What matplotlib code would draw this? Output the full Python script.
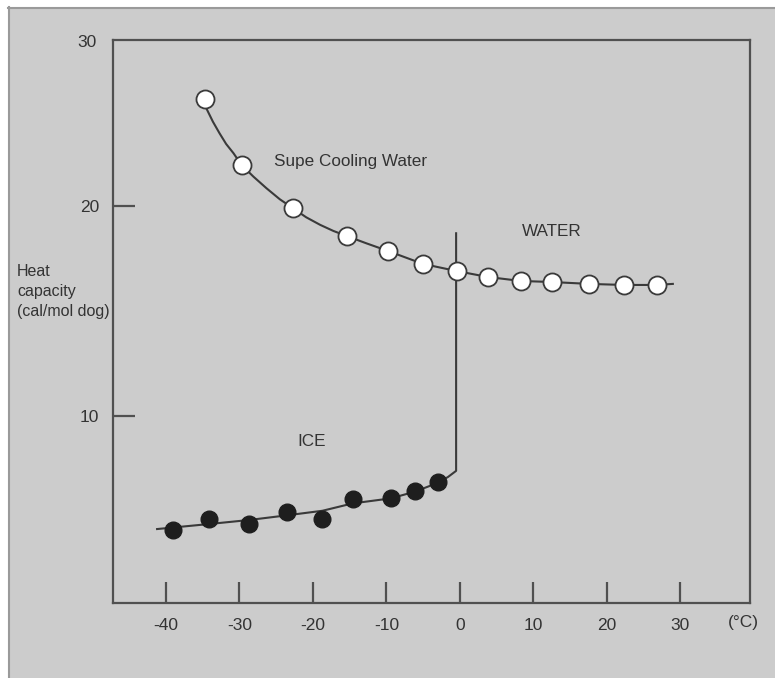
import matplotlib
matplotlib.use("Agg")
import matplotlib.pyplot as plt
from matplotlib.patches import Rectangle

plt.rcParams["font.family"] = ["Liberation Sans", "DejaVu Sans"]

# supercooled water / water (open circles)
water_t = [-34.7, -29.7, -22.7, -15.4, -9.8, -5.0, -0.4, 3.8, 8.3, 12.5, 17.6, 22.3, 26.8]
water_cp = [25.1, 21.95, 19.89, 18.57, 17.86, 17.24, 16.9, 16.62, 16.43, 16.38, 16.29, 16.22, 16.22]

# smooth curve drawn through the water points
water_curve_t = [-34.7, -34.5, -33.6, -32.7, -31.8, -30.8, -29.7, -28.1, -26.3, -24.5,
                 -22.7, -20.9, -19.0, -17.2, -15.4, -12.7, -9.8,
                 -5.0, -0.4, 3.8, 8.3, 12.5, 17.6, 22.3, 26.8, 29.0]
water_curve_cp = [25.1, 24.65, 24.01, 23.46, 22.95, 22.51, 21.95, 21.40, 20.84, 20.32,
                  19.89, 19.46, 19.10, 18.81, 18.57, 18.22, 17.86,
                  17.24, 16.9, 16.62, 16.43, 16.38, 16.29, 16.24, 16.24, 16.29]

# ice (filled circles)
ice_t = [-39.0, -34.1, -28.7, -23.5, -18.8, -14.6, -9.4, -6.1, -3.0]
ice_cp = [4.57, 5.10, 4.86, 5.43, 5.10, 6.05, 6.10, 6.43, 6.86]

# fitted curve for ice, ending in the jump at the melting point
ice_curve_t = [-41.2, -34.1, -28.7, -23.6, -18.7, -14.6, -9.4, -6.1, -3.0, -1.6, -0.5, -0.5]
ice_curve_cp = [4.62, 4.86, 5.05, 5.27, 5.49, 5.84, 6.08, 6.40, 6.82, 7.10, 7.39, 18.7]

x_ticks = [-40, -30, -20, -10, 0, 10, 20, 30]
y_ticks = [10, 20]

INK = "#3a3a3a"
TEXT = "#333333"

fig = plt.figure(figsize=(7.75, 6.78), dpi=100)
fig.patch.set_facecolor("white")
W, H = 775, 678
fig.add_artist(Rectangle((8 / W, 0), 1 - 8 / W, 1 - 7 / H, transform=fig.transFigure,
                         facecolor="#cccccc", edgecolor="none", zorder=-5))
fig.add_artist(plt.Line2D([9 / W, 9 / W], [0, 1 - 7 / H], transform=fig.transFigure,
                          color="#9a9a9a", linewidth=1.5, zorder=-4))
fig.add_artist(plt.Line2D([8 / W, 1], [1 - 8 / H, 1 - 8 / H], transform=fig.transFigure,
                          color="#9a9a9a", linewidth=1.5, zorder=-4))

ax = fig.add_axes([113 / W, 1 - 603 / H, (750 - 113) / W, (603 - 40) / H])
ax.set_zorder(2)
ax.set_facecolor("none")
ax.set_xlim(-47.2, 39.5)
ax.set_ylim(1.1, 27.9)

ax.plot(water_curve_t, water_curve_cp, color=INK, linewidth=1.5, zorder=2,
        solid_joinstyle="round")
ax.plot(ice_curve_t, ice_curve_cp, color=INK, linewidth=1.5, zorder=2,
        solid_joinstyle="round")
ax.plot(water_t, water_cp, linestyle="none", marker="o", markersize=13,
        markerfacecolor="white", markeredgecolor=INK, markeredgewidth=1.3, zorder=3)
ax.plot(ice_t, ice_cp, linestyle="none", marker="o", markersize=12,
        markerfacecolor="#1e1e1e", markeredgecolor="#1e1e1e", zorder=3)

for side in ax.spines.values():
    side.set_color("#505050")
    side.set_linewidth(1.6)

ax.set_xticks(x_ticks)
ax.set_xticklabels([str(v) for v in x_ticks])
ax.set_yticks(y_ticks)
ax.set_yticklabels([str(v) for v in y_ticks])
ax.tick_params(axis="x", direction="in", length=15, width=1.6, color="#505050",
               pad=11, labelsize=12.5, labelcolor=TEXT)
ax.tick_params(axis="y", direction="in", length=16, width=1.6, color="#505050",
               pad=10, labelsize=12.5, labelcolor=TEXT)

# top label of the y axis sits at the frame edge
ax.annotate("30", xy=(0, 1), xycoords="axes fraction", xytext=(-12, -2),
            textcoords="offset points", ha="right", va="center",
            fontsize=12.5, color=TEXT)
ax.annotate("(°C)", xy=(38.6, 0), xycoords=("data", "axes fraction"),
            xytext=(0, -14), textcoords="offset points", ha="center", va="center",
            fontsize=12.5, color=TEXT, annotation_clip=False)

fig.text(17 / W, 1 - 264 / H, "Heat\ncapacity\n(cal/mol dog)", ha="left", va="top",
         fontsize=11.5, color=TEXT, linespacing=1.4)

ax.text(-14.8, 22.1, "Supe Cooling Water", ha="center", va="center", fontsize=12.3, color=TEXT)
ax.text(12.5, 18.78, "WATER", ha="center", va="center", fontsize=12.3, color=TEXT)
ax.text(-20.1, 8.8, "ICE", ha="center", va="center", fontsize=12.3, color=TEXT)

fig.savefig("out.png", dpi=100)
